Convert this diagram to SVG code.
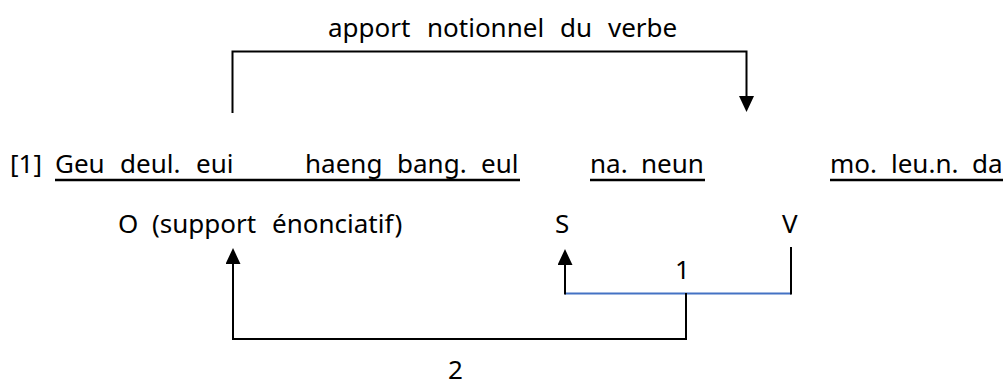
<svg xmlns="http://www.w3.org/2000/svg" width="1008" height="385" viewBox="0 0 1008 385">
<style>
text{font-family:"Noto Sans","Open Sans","DejaVu Sans",sans-serif;font-size:26px;fill:#000}
.ln{fill:none;stroke:#000;stroke-width:2}
.ul{stroke:#000;stroke-width:2.5}
.blue{fill:none;stroke:#4472C4;stroke-width:2}
</style>
<defs>
<marker id="ah" markerUnits="userSpaceOnUse" markerWidth="16" markerHeight="15" refX="8" refY="7.5" orient="auto">
<path d="M0,0 L16,7.5 L0,15 z" fill="#000"/>
</marker>
</defs>
<rect width="1008" height="385" fill="#fff"/>
<g id="title">
<text y="37"><tspan x="328">apport</tspan><tspan x="427">notionnel</tspan><tspan x="560">du</tspan><tspan x="608">verbe</tspan></text>
</g>
<g id="label-1">
<text x="10" y="173">[1]</text>
</g>
<g id="segment-1">
<text y="173"><tspan x="55">Geu</tspan><tspan x="120">deul.</tspan><tspan x="196">eui</tspan><tspan x="305">haeng</tspan><tspan x="397">bang.</tspan><tspan x="481">eul</tspan></text>
<line class="ul" x1="55" y1="180" x2="520" y2="180"/>
</g>
<g id="segment-2">
<text y="173"><tspan x="590">na.</tspan><tspan x="641">neun</tspan></text>
<line class="ul" x1="590" y1="180" x2="705" y2="180"/>
</g>
<g id="segment-3">
<text y="173"><tspan x="830">mo.</tspan><tspan x="891">leu.n.</tspan><tspan x="972">da</tspan></text>
<line class="ul" x1="830" y1="180" x2="1003" y2="180"/>
</g>
<g id="node-O">
<text y="233"><tspan x="118">O</tspan><tspan x="152">(support</tspan><tspan x="272">énonciatif)</tspan></text>
</g>
<g id="node-S">
<text x="555" y="233">S</text>
</g>
<g id="node-V">
<text x="782" y="233">V</text>
</g>
<g id="label-one">
<text x="675" y="279">1</text>
</g>
<g id="label-two">
<text x="448" y="379">2</text>
</g>
<g id="connectors">
<path class="ln" d="M232.5,113 V51.5 H746.5 V104" marker-end="url(#ah)"/>
<path class="blue" d="M565,293.5 H791"/>
<path class="ln" d="M565,294.5 V257" marker-end="url(#ah)"/>
<path class="ln" d="M791,247 V294.5"/>
<path class="ln" d="M686,293 V339 H233 V256" marker-end="url(#ah)"/>
</g>
</svg>
